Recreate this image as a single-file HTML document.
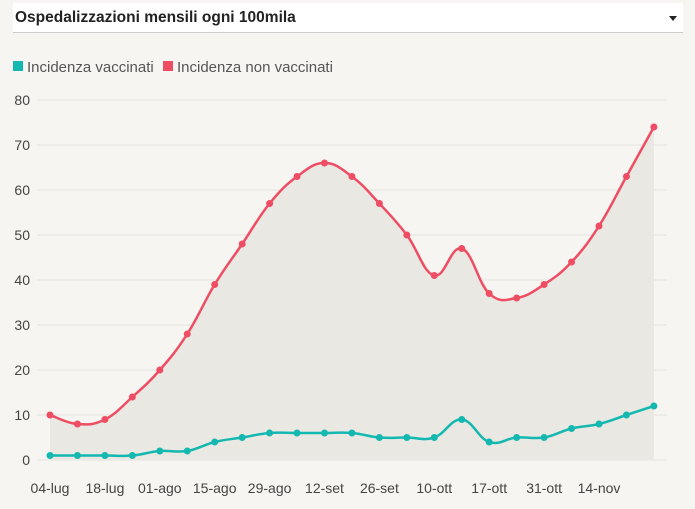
<!DOCTYPE html>
<html><head><meta charset="utf-8"><style>
body{margin:0;background:#f6f5f1;font-family:"Liberation Sans",sans-serif;}
.sel{position:absolute;left:13px;top:3px;width:670px;height:30px;background:#fff;border-bottom:1px solid #ccc;box-sizing:border-box;}
.sel span{position:absolute;left:2px;top:6px;font-weight:bold;font-size:15.5px;color:#222;}
.sel i{position:absolute;right:6px;top:13px;width:0;height:0;border-left:4px solid transparent;border-right:4px solid transparent;border-top:5px solid #222;}
</style></head><body>
<div class="sel"><span>Ospedalizzazioni mensili ogni 100mila</span><i></i></div>
<svg id="s" width="695" height="509" style="position:absolute;left:0;top:0" font-family="Liberation Sans, sans-serif">
<rect x="13" y="61" width="10" height="10" fill="#14b8b0"/>
<text x="27" y="72" font-size="15" fill="#555">Incidenza vaccinati</text>
<rect x="163" y="61" width="10" height="10" fill="#ee4d63"/>
<text x="177" y="72" font-size="15" fill="#555">Incidenza non vaccinati</text>
<g id="g"></g>
</svg>
<script>
var g=document.getElementById('g'),h='';
for(var v=0;v<=80;v+=10){var y=460-v*4.5;h+='<line x1="37" x2="667" y1="'+y+'" y2="'+y+'" stroke="#e6e4df"/>';h+='<text x="30" y="'+(y+5)+'" font-size="14" fill="#444" text-anchor="end">'+v+'</text>';}
var labs=['04-lug','18-lug','01-ago','15-ago','29-ago','12-set','26-set','10-ott','17-ott','31-ott','14-nov'];
labs.forEach(function(l,i){h+='<text x="'+(50+i*54.9)+'" y="493" font-size="14" fill="#444" text-anchor="middle">'+l+'</text>';});
var R=[10,8,9,14,20,28,39,48,57,63,66,63,57,50,41,47,37,36,39,44,52,63,74];
var G=[1,1,1,1,2,2,4,5,6,6,6,6,5,5,5,9,4,5,5,7,8,10,12];
function pts(a){return a.map(function(v,i){return [50+i*27.45,460-v*4.5];});}
function path(p){var d='M'+p[0][0]+','+p[0][1];for(var i=0;i<p.length-1;i++){var p0=p[i-1]||p[i],p1=p[i],p2=p[i+1],p3=p[i+2]||p2;var t=0.2;d+='C'+(p1[0]+(p2[0]-p0[0])*t)+','+(p1[1]+(p2[1]-p0[1])*t)+' '+(p2[0]-(p3[0]-p1[0])*t)+','+(p2[1]-(p3[1]-p1[1])*t)+' '+p2[0]+','+p2[1];}return d;}
var pr=pts(R),pg=pts(G),dr=path(pr);
h+='<path d="'+dr+'L'+pr[22][0]+',460L50,460Z" fill="#e9e8e2"/>';
h+='<path d="'+dr+'" fill="none" stroke="#ee4d63" stroke-width="2.5"/>';
h+='<path d="'+path(pg)+'" fill="none" stroke="#14b8b0" stroke-width="2.5"/>';
pr.forEach(function(p){h+='<circle cx="'+p[0]+'" cy="'+p[1]+'" r="3.5" fill="#ee4d63"/>';});
pg.forEach(function(p){h+='<circle cx="'+p[0]+'" cy="'+p[1]+'" r="3.5" fill="#14b8b0"/>';});
g.innerHTML=h;
</script>
</body></html>
